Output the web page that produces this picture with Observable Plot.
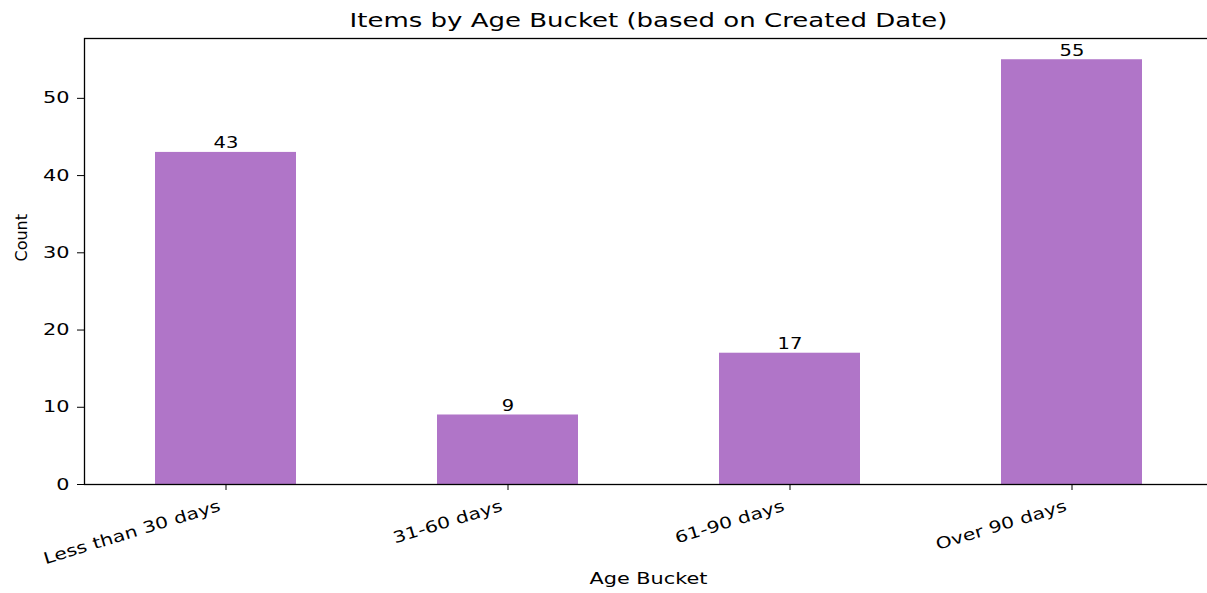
<!DOCTYPE html>
<html>
<head>
<meta charset="utf-8">
<script src="https://cdn.jsdelivr.net/npm/d3@7"></script>
<script src="https://cdn.jsdelivr.net/npm/@observablehq/plot@0.6"></script>
<style>
  html, body { margin: 0; padding: 0; background: #fff; overflow: hidden; }
  #chart svg { display: block; }
</style>
</head>
<body>
<div id="chart"></div>
<script>
const categories = ["Less than 30 days", "31-60 days", "61-90 days", "Over 90 days"];
const counts = [43, 9, 17, 55];
const yTicks = [0, 10, 20, 30, 40, 50];
const titleText = "Items by Age Bucket (based on Created Date)";
const xLabel = "Age Bucket";
const yLabel = "Count";

const data = categories.map((c, i) => ({bucket: c, count: counts[i]}));
const font = "DejaVu Sans, sans-serif";

const chart = Plot.plot({
  width: 1207,
  height: 593,
  marginLeft: 84,
  marginRight: -5,
  marginTop: 38,
  marginBottom: 109,
  style: {fontFamily: font, fontSize: "16px", color: "#000", background: "#fff", overflow: "hidden"},
  x: {domain: categories, paddingInner: 0.5, paddingOuter: 0.25, label: null},
  y: {domain: [0, 57.75], label: null},
  marks: [
    Plot.barY(data, {x: "bucket", y: "count", fill: "#b075c8"}),
    Plot.text(data, {x: "bucket", y: "count", text: d => String(d.count), dy: -9, fontSize: 15, fill: "#000"}),
    Plot.frame({stroke: "#000", strokeWidth: 1.3}),
    Plot.axisY({ticks: yTicks, tickSize: 7, tickPadding: 8, fontSize: 16, label: null}),
    Plot.ruleX(categories, {x: d => d, y1: 0, y2: 0, insetBottom: -6, stroke: "#000", strokeWidth: 1}),
    Plot.axisX({tickSize: 0, tickRotate: -17, textAnchor: "end", tickPadding: 15, dx: -6, dy: 6, fontSize: 16, label: null}),
    Plot.text([titleText], {frameAnchor: "top", lineAnchor: "middle", dy: -18, fontSize: 20, fill: "#000"}),
    Plot.text([xLabel], {frameAnchor: "bottom", lineAnchor: "middle", dy: 94, fontSize: 16, fill: "#000"}),
    Plot.text([yLabel], {frameAnchor: "left", lineAnchor: "middle", dx: -63, rotate: -90, fontSize: 16, fill: "#000"})
  ]
});
document.getElementById("chart").append(chart);

// The reference figure is stretched horizontally; widen horizontal text glyphs to match.
chart.querySelectorAll("text").forEach(t => {
  const tr = t.getAttribute("transform") || "";
  if (/rotate\(-?90\)/.test(tr)) return;
  const factor = /rotate\(/.test(tr) ? 1.27 : 1.3;
  const targets = t.querySelectorAll("tspan").length ? t.querySelectorAll("tspan") : [t];
  targets.forEach(el => {
    const len = el.getComputedTextLength();
    if (len > 0) {
      el.setAttribute("textLength", (len * factor).toFixed(1));
      el.setAttribute("lengthAdjust", "spacingAndGlyphs");
    }
  });
});
</script>
</body>
</html>
